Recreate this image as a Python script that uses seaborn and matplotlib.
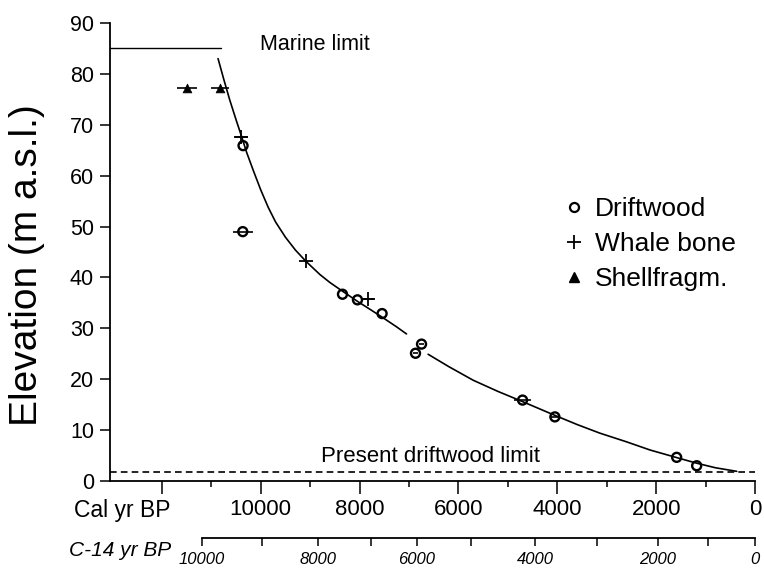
import numpy as np
import pandas as pd
import matplotlib
matplotlib.use("Agg")
import matplotlib.pyplot as plt
import seaborn as sns
from matplotlib.lines import Line2D

# ---------------- data ----------------
drift_age = [10358, 10364, 8346, 8043, 7545, 6747, 6869, 4703, 4049, 1585, 1180]
drift_elev = [65.9, 49.0, 36.7, 35.6, 32.9, 26.9, 25.1, 15.9, 12.6, 4.65, 3.0]
drift_err = [0, 200, 0, 0, 0, 60, 60, 170, 100, 0, 0]

whale_age = [10391, 9089, 7828]
whale_elev = [67.6, 43.2, 35.8]
whale_err = [140, 0, 120]

shell_age = [11492, 10820]
shell_elev = [77.3, 77.3]
shell_err = [200, 180]

curve1_age = [10864, 10750, 10628, 10500, 10391, 10290, 10150, 10000, 9850, 9700,
              9500, 9300, 9089, 8806, 8600, 8346, 8043, 7800, 7545, 7253, 7051]
curve1_elev = [83.0, 79.0, 74.9, 71.0, 67.8, 64.7, 61.0, 57.2, 53.8, 50.9,
               47.9, 45.4, 43.2, 40.6, 39.0, 37.3, 35.3, 33.8, 32.2, 30.3, 28.9]
curve2_age = [6613, 6200, 5702, 5200, 4703, 4049, 3600, 3138, 2600, 2126, 1585, 1180, 800, 370]
curve2_elev = [24.9, 22.5, 19.8, 17.6, 15.6, 12.9, 11.1, 9.4, 7.7, 6.1, 4.6, 3.5, 2.6, 1.9]

marine_limit = 85
marine_limit_end = 10806
driftwood_limit = 1.7

cal_major = [0, 2000, 4000, 6000, 8000, 10000, 12000]
cal_labels = ["0", "2000", "4000", "6000", "8000", "10000", ""]
cal_minor = [1000, 3000, 5000, 7000, 9000, 11000]

c14_labels = ["10000", "8000", "6000", "4000", "2000", "0"]
c14_major_cal = [11194, 8846, 6842, 4453, 1964, 0]
c14_minor_cal = [9980, 7773, 5749, 3198, 951]

y_ticks = [0, 10, 20, 30, 40, 50, 60, 70, 80, 90]

# ---------------- figure ----------------
sns.set_theme(style="ticks")
plt.rcParams["font.family"] = ["Liberation Sans", "DejaVu Sans"]
plt.rcParams["text.color"] = "black"

W, H = 764, 568
fig = plt.figure(figsize=(W / 100, H / 100), dpi=100)
L, R, T, B = 110, 755, 23, 481
ax = fig.add_axes([L / W, 1 - B / H, (R - L) / W, (B - T) / H])
ax.set_xlim(13050, 0)
ax.set_ylim(0, 90)
ax.patch.set_alpha(0)

k = "black"
# curve
sns.lineplot(x=curve1_age, y=curve1_elev, sort=False, estimator=None, color=k, lw=1.2, ax=ax)
sns.lineplot(x=curve2_age, y=curve2_elev, sort=False, estimator=None, color=k, lw=1.2, ax=ax)

# limits
ax.plot([13050, marine_limit_end], [marine_limit, marine_limit], color=k, lw=1.0)
ax.plot([13050, 0], [driftwood_limit, driftwood_limit], color=k, lw=1.2, ls=(0, (4, 2.5)))

# error bars
ax.errorbar(drift_age, drift_elev, xerr=drift_err, fmt="none", ecolor=k, elinewidth=1.2)
ax.errorbar(whale_age, whale_elev, xerr=whale_err, fmt="none", ecolor=k, elinewidth=1.2)
ax.errorbar(shell_age, shell_elev, xerr=shell_err, fmt="none", ecolor=k, elinewidth=1.2)

# points
sns.scatterplot(x=drift_age, y=drift_elev, marker="o", s=42, facecolors="none",
                edgecolor=k, linewidth=1.7, ax=ax, zorder=5)
sns.scatterplot(x=whale_age, y=whale_elev, marker="+", s=95, color=k, linewidth=1.3, ax=ax, zorder=5)
sns.scatterplot(x=shell_age, y=shell_elev, marker="^", s=40, color=k, edgecolor=k, ax=ax, zorder=5)

# texts
ax.text(10020, 85.7, "Marine limit", fontsize=15.5, ha="left", va="center", color=k)
ax.text(8771, 4.8, "Present driftwood limit", fontsize=16, ha="left", va="center", color=k)

# axes styling
sns.despine(ax=ax)
for s in ("left", "bottom"):
    ax.spines[s].set_linewidth(1.3)
    ax.spines[s].set_color(k)
ax.set_yticks(y_ticks)
ax.set_yticklabels([str(v) for v in y_ticks], fontsize=15.5, color=k)
ax.set_xticks(cal_major)
ax.set_xticklabels(cal_labels, fontsize=16, color=k)
ax.set_xticks(cal_minor, minor=True)
ax.tick_params(axis="y", direction="out", length=7.5, width=1.1, pad=4, colors=k)
ax.tick_params(axis="x", which="major", direction="out", length=9, width=1.1, pad=4, colors=k)
ax.tick_params(axis="x", which="minor", direction="out", length=4, width=1.1, colors=k)
ax.set_xlabel("")
ax.set_ylabel("Elevation (m a.s.l.)", fontsize=28, color=k)
ax.yaxis.set_label_coords((45 - L) / (R - L), (B - 265) / (B - T))
ax.grid(False)

# legend
handles = [
    Line2D([], [], marker="o", ls="", mfc="none", mec=k, ms=6.5, mew=1.6, label="Driftwood"),
    Line2D([], [], marker="+", ls="", color=k, ms=10, mew=1.3, label="Whale bone"),
    Line2D([], [], marker="^", ls="", color=k, ms=6.5, label="Shellfragm."),
]
ax.legend(handles=handles, loc="upper left", bbox_to_anchor=((562 - L) / (R - L), (B - 197) / (B - T)),
          frameon=False, fontsize=19, borderaxespad=0, borderpad=0, handlelength=0.9,
          handletextpad=0.35, labelspacing=0.42, labelcolor=k)

# Cal axis title
fig.text(171 / W, 1 - 510 / H, "Cal yr BP", fontsize=16.5, ha="right", va="center", color=k)

# C-14 axis
ax2 = fig.add_axes([L / W, 1 - 538 / H, (R - L) / W, 0.0001])
ax2.set_xlim(ax.get_xlim())
ax2.patch.set_alpha(0)
for s in ("top", "left", "right"):
    ax2.spines[s].set_visible(False)
ax2.spines["bottom"].set_bounds(c14_major_cal[0], c14_major_cal[-1])
ax2.spines["bottom"].set_linewidth(1.3)
ax2.spines["bottom"].set_color(k)
ax2.set_yticks([])
ax2.set_xticks(c14_major_cal)
ax2.set_xticklabels(c14_labels, fontsize=12, style="italic", color=k)
ax2.set_xticks(c14_minor_cal, minor=True)
ax2.tick_params(axis="x", which="major", direction="out", length=6, width=1.1, pad=4, colors=k)
ax2.tick_params(axis="x", which="minor", direction="out", length=6, width=1.1, colors=k)
fig.text(171 / W, 1 - 550 / H, "C-14 yr BP", fontsize=15, style="italic", ha="right", va="center", color=k)

fig.savefig("out.png", dpi=100)
